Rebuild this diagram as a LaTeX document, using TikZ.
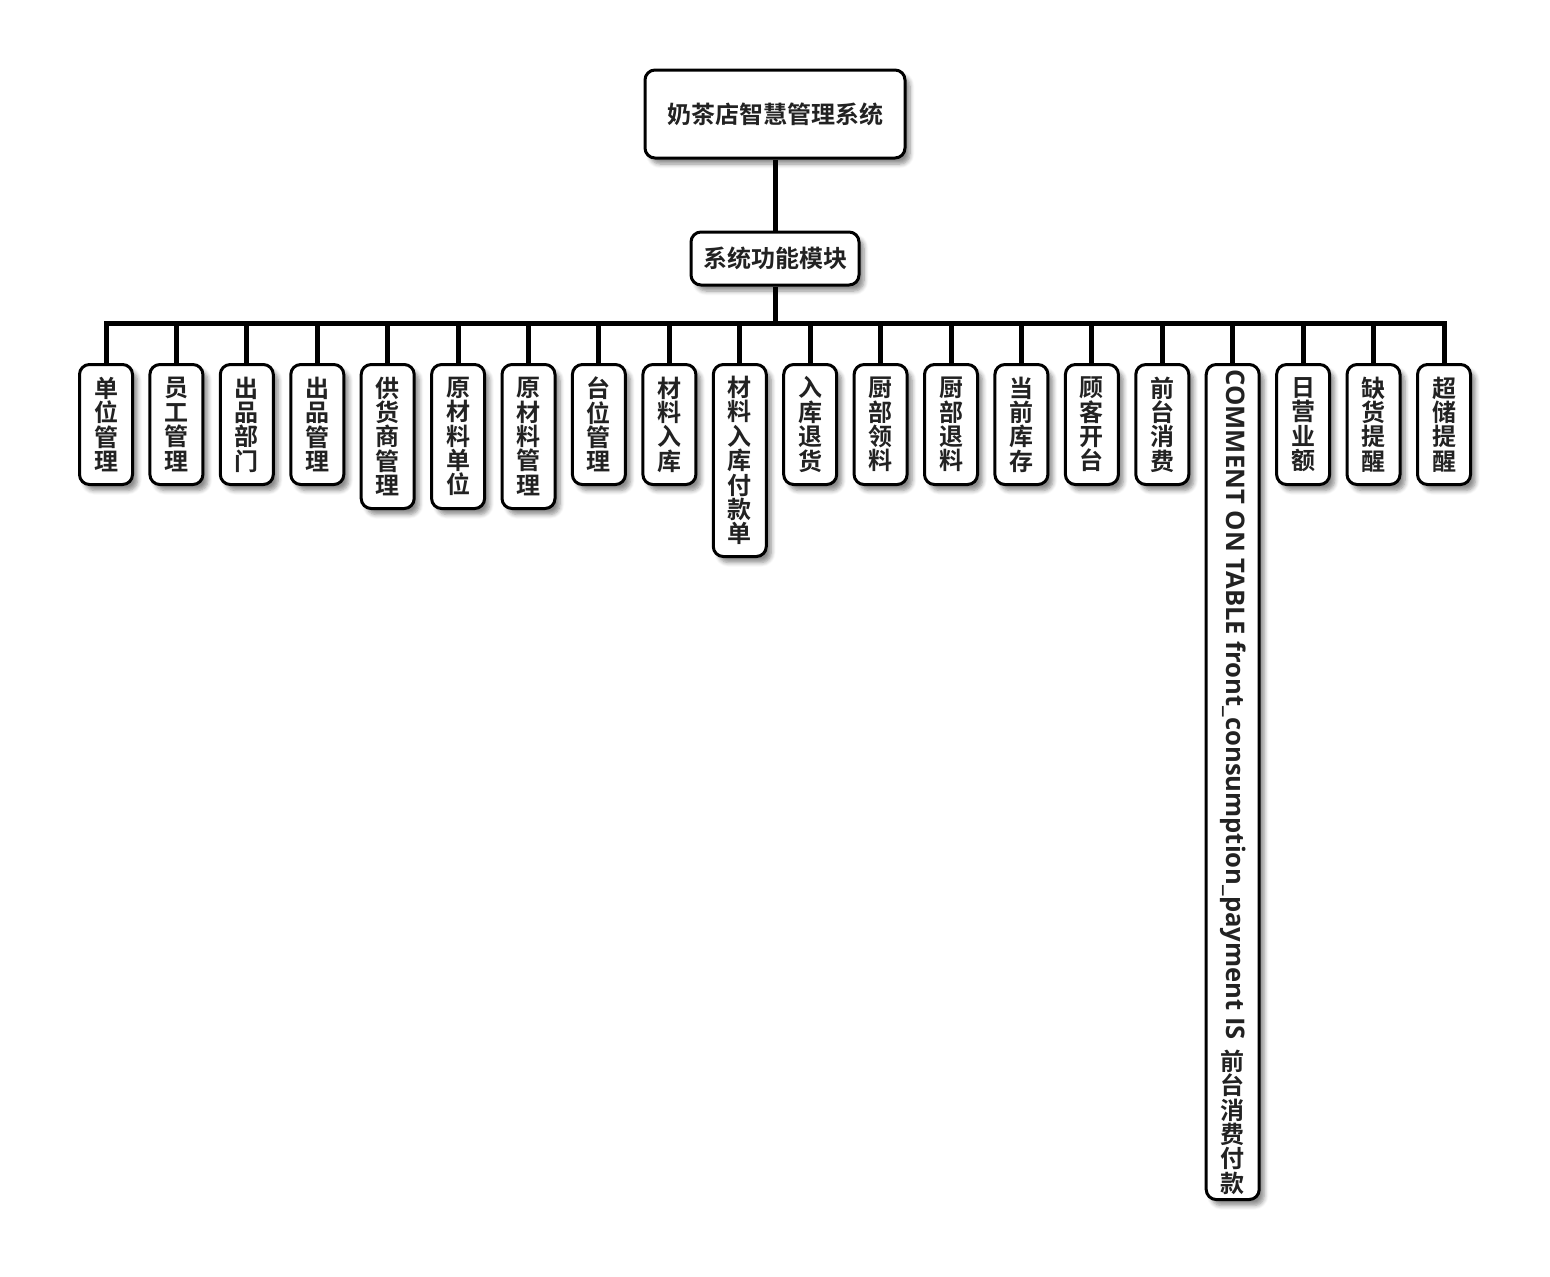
\documentclass[tikz,border=0pt]{standalone}
\usepackage{fontspec}
\usepackage{graphicx}
\setmainfont{Open Sans}
\newfontfamily\cjk{Noto Sans CJK SC}[BoldFont={* Bold}]
\newfontfamily\latinfont{Open Sans}
\usetikzlibrary{shadows.blur}
\definecolor{txt}{HTML}{222222}
\tikzset{
  box/.style={draw=black, line width=1.5pt, rounded corners=5pt, fill=white,
    text=txt, font=\cjk\bfseries\fontsize{12}{12.2}\selectfont, align=center,
    inner sep=0pt,
    blur shadow={shadow xshift=2.5pt, shadow yshift=-3pt, shadow blur steps=6, shadow opacity=45}},
  leaf/.style={box, anchor=north, minimum width=26.5pt},
  conn/.style={draw=black, line width=2.5pt},
}
\newcommand\leafnode[4]{%
  \node[leaf, minimum height={(#3+1)*12pt}] (#1) at (#2,363) {#4};}
\begin{document}
\begin{tikzpicture}[x=0.5pt,y=-0.5pt]
\useasboundingbox (0,0) rectangle (1550,1276);
\node[box, minimum width=130pt, minimum height=44pt] (root) at (775,114) {奶茶店智慧管理系统};
\node[box, minimum width=84pt, minimum height=26.5pt] (sys) at (775,258.5) {系统功能模块};
\coordinate (bus) at (775,323);
\leafnode{l1}{106}{4}{单\\位\\管\\理}
\leafnode{l2}{176.4}{4}{员\\工\\管\\理}
\leafnode{l3}{246.8}{4}{出\\品\\部\\门}
\leafnode{l4}{317.3}{4}{出\\品\\管\\理}
\leafnode{l5}{387.7}{5}{供\\货\\商\\管\\理}
\leafnode{l6}{458.1}{5}{原\\材\\料\\单\\位}
\leafnode{l7}{528.5}{5}{原\\材\\料\\管\\理}
\leafnode{l8}{598.9}{4}{台\\位\\管\\理}
\leafnode{l9}{669.4}{4}{材\\料\\入\\库}
\leafnode{l10}{739.8}{7}{材\\料\\入\\库\\付\\款\\单}
\leafnode{l11}{810.2}{4}{入\\库\\退\\货}
\leafnode{l12}{880.6}{4}{厨\\部\\领\\料}
\leafnode{l13}{951.0}{4}{厨\\部\\退\\料}
\leafnode{l14}{1021.4}{4}{当\\前\\库\\存}
\leafnode{l15}{1091.9}{4}{顾\\客\\开\\台}
\leafnode{l16}{1162.3}{4}{前\\台\\消\\费}
\node[leaf, minimum height=417.5pt] (l17) at (1232.7,363)
  {\rotatebox{-90}{\latinfont\bfseries\fontsize{12.8}{14}\selectfont COMMENT ON TABLE front\_consumption\_payment IS}\\[4pt]前\\台\\消\\费\\付\\款};
\leafnode{l18}{1303.1}{4}{日\\营\\业\\额}
\leafnode{l19}{1373.5}{4}{缺\\货\\提\\醒}
\leafnode{l20}{1444}{4}{超\\储\\提\\醒}
\draw[conn] (root.south) -- (sys.north);
\draw[conn] (sys.south) -- (bus);
\draw[conn] (l1.north) |- (bus) -| (l20.north);
\foreach \i in {2,...,19} {\draw[conn] (l\i.north |- bus) -- (l\i.north);}
\end{tikzpicture}
\end{document}
